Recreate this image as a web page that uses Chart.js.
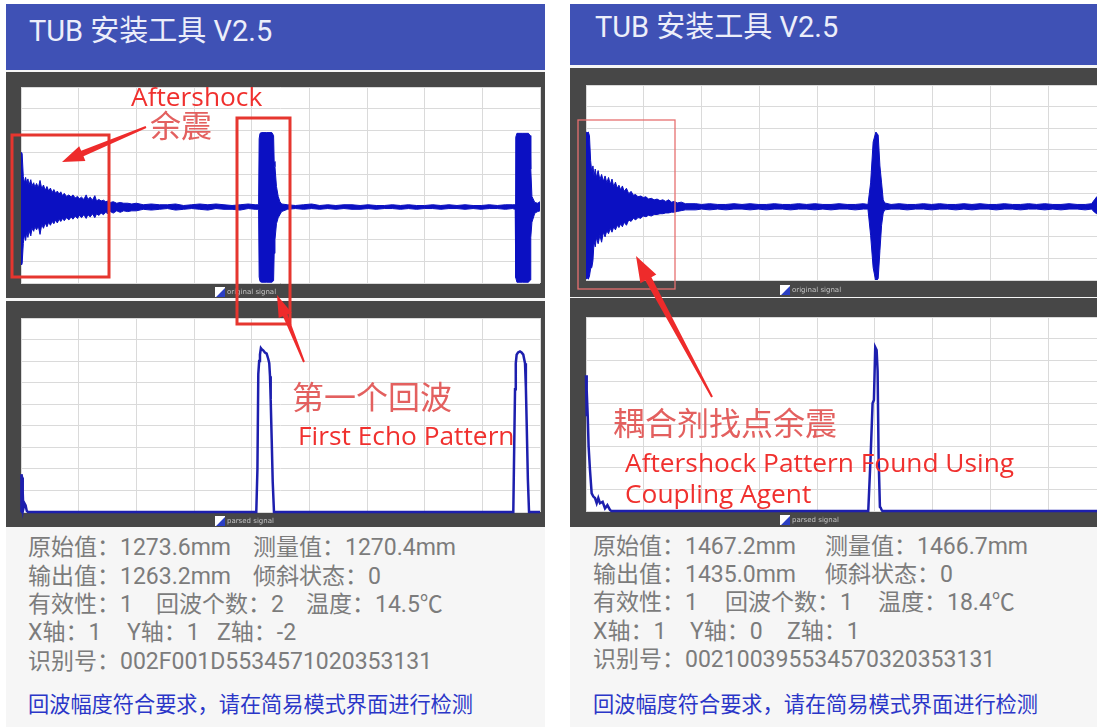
<!DOCTYPE html>
<html>
<head>
<meta charset="utf-8">
<script src="https://cdn.jsdelivr.net/npm/chart.js@4.4.1/dist/chart.umd.min.js"></script>
<style>
html, body { margin: 0; padding: 0; background: #fff; overflow: hidden; }
#page { position: relative; width: 1097px; height: 727px; overflow: hidden; font-family: Roboto, "Noto Sans CJK SC", sans-serif; }
.phone { position: absolute; background: #f6f6f6; }
.bar { position: absolute; background: #3f51b5; }
.title { position: absolute; color: #eceefa; font-size: 29px; line-height: 34px; white-space: nowrap; }
canvas { position: absolute; }
.info { position: absolute; color: #7c7c7c; font-size: 23px; line-height: 28px; white-space: nowrap; }
.tip { position: absolute; color: #2b36c8; font-size: 21.2px; line-height: 28px; white-space: nowrap; }
.lg { position: absolute; font-size: 7px; line-height: 10px; color: #c4c4c4; white-space: nowrap; font-family: "DejaVu Sans", sans-serif; }
.lg svg { vertical-align: middle; margin-right: 2px; }
#notes { position: absolute; left: 0; top: 0; pointer-events: none; }
</style>
</head>
<body>
<div id="page">
  <div class="phone" style="left:6px;top:4px;width:539px;height:723px"></div>
  <div class="phone" style="left:570px;top:4px;width:527px;height:723px"></div>

  <div class="bar" style="left:6px;top:4px;width:539px;height:66px"></div>
  <div class="title" style="left:29px;top:14px">TUB 安装工具 V2.5</div>
  <div class="bar" style="left:570px;top:4px;width:527px;height:61px"></div>
  <div class="title" style="left:595px;top:10px">TUB 安装工具 V2.5</div>

  <canvas id="leftWave" width="539" height="226" style="left:6px;top:72px"></canvas>
  <canvas id="leftEnv" width="539" height="226" style="left:6px;top:301px"></canvas>
  <canvas id="rightWave" width="540" height="229" style="left:570px;top:68px"></canvas>
  <canvas id="rightEnv" width="540" height="229" style="left:570px;top:298px"></canvas>

  <div class="lg" style="left:215px;top:287px"><svg width="10" height="10"><rect width="10" height="10" fill="#fff"/><polygon points="10,0 10,10 0,10" fill="#2b3fc4"/><line x1="0" y1="10" x2="10" y2="0" stroke="#fff" stroke-width="1.5"/></svg>original signal</div>
  <div class="lg" style="left:215px;top:516px"><svg width="10" height="10"><rect width="10" height="10" fill="#fff"/><polygon points="10,0 10,10 0,10" fill="#2b3fc4"/><line x1="0" y1="10" x2="10" y2="0" stroke="#fff" stroke-width="1.5"/></svg>parsed signal</div>
  <div class="lg" style="left:780px;top:285px"><svg width="10" height="10"><rect width="10" height="10" fill="#fff"/><polygon points="10,0 10,10 0,10" fill="#2b3fc4"/><line x1="0" y1="10" x2="10" y2="0" stroke="#fff" stroke-width="1.5"/></svg>original signal</div>
  <div class="lg" style="left:780px;top:515px"><svg width="10" height="10"><rect width="10" height="10" fill="#fff"/><polygon points="10,0 10,10 0,10" fill="#2b3fc4"/><line x1="0" y1="10" x2="10" y2="0" stroke="#fff" stroke-width="1.5"/></svg>parsed signal</div>

  <div class="info" style="left:28px;top:534px">原始值：1273.6mm</div>
  <div class="info" style="left:253px;top:534px">测量值：1270.4mm</div>
  <div class="info" style="left:28px;top:563px">输出值：1263.2mm</div>
  <div class="info" style="left:253px;top:563px">倾斜状态：0</div>
  <div class="info" style="left:28px;top:591px">有效性：1</div>
  <div class="info" style="left:156px;top:591px">回波个数：2</div>
  <div class="info" style="left:306px;top:591px">温度：14.5℃</div>
  <div class="info" style="left:28px;top:619px">X轴：1</div>
  <div class="info" style="left:127px;top:619px">Y轴：1</div>
  <div class="info" style="left:217px;top:619px">Z轴：-2</div>
  <div class="info" style="left:28px;top:648px">识别号：002F001D5534571020353131</div>
  <div class="tip" style="left:28px;top:691px">回波幅度符合要求，请在简易模式界面进行检测</div>

  <div class="info" style="left:593px;top:533px">原始值：1467.2mm</div>
  <div class="info" style="left:825px;top:533px">测量值：1466.7mm</div>
  <div class="info" style="left:593px;top:561px">输出值：1435.0mm</div>
  <div class="info" style="left:825px;top:561px">倾斜状态：0</div>
  <div class="info" style="left:593px;top:589px">有效性：1</div>
  <div class="info" style="left:725px;top:589px">回波个数：1</div>
  <div class="info" style="left:878px;top:589px">温度：18.4℃</div>
  <div class="info" style="left:593px;top:618px">X轴：1</div>
  <div class="info" style="left:690px;top:618px">Y轴：0</div>
  <div class="info" style="left:787px;top:618px">Z轴：1</div>
  <div class="info" style="left:593px;top:646px">识别号：002100395534570320353131</div>
  <div class="tip" style="left:593px;top:691px">回波幅度符合要求，请在简易模式界面进行检测</div>

  <svg id="notes" width="1097" height="727">
    <rect x="12" y="135" width="97" height="142" fill="none" stroke="#e6362f" stroke-width="3"/>
    <rect x="237" y="118" width="53" height="206" fill="none" stroke="#e6362f" stroke-width="3"/>
    <rect x="578" y="120" width="97" height="169" fill="none" stroke="#e77070" stroke-width="1.3"/>
    <g id="arrows" fill="#ee2b2b"></g>
    <g font-family="'Open Sans', sans-serif" font-size="26.3" fill="#f0302e">
      <text x="131" y="106">Aftershock</text>
      <text x="298" y="445">First Echo Pattern</text>
      <text x="625" y="472">Aftershock Pattern Found Using</text>
      <text x="625" y="503">Coupling Agent</text>
    </g>
    <g font-family="'Noto Sans CJK SC', sans-serif" fill="#e3605f">
      <text x="150" y="137" font-size="31">余震</text>
      <text x="292" y="409" font-size="32">第一个回波</text>
      <text x="613" y="435" font-size="32">耦合剂找点余震</text>
    </g>
  </svg>
</div>

<script>
// x positions are in samples (9 grid divisions of 100), y in amplitude units
const xTicks = [0, 100, 200, 300, 400, 500, 600, 700, 800, 900];
const leftWaveTicks = [-100, -71.3, -42.7, -14, 14.7, 43.3, 72, 100.7, 129.3, 158];
const rightWaveTicks = [-95, -66.9, -38.8, -10.7, 17.4, 45.6, 73.7, 101.8, 129.9, 158];
const envTicks = [0, 1, 2, 3, 4, 5, 6, 7, 8, 9];

// left "original signal": upper and lower edge of the dense trace
const leftWaveX = [
  0, 1, 2, 4, 6, 8, 10, 12, 14, 17, 19, 22, 24, 27, 30, 33, 36, 39, 42, 45,
  48, 51, 54, 57, 60, 63, 66, 69, 72, 75, 79, 83, 87, 90, 94, 98, 101, 105, 109, 113,
  116, 120, 124, 128, 131, 135, 139, 143, 147, 151, 155, 160, 166, 172, 178, 185, 192, 200,
  212, 226, 240, 254, 268, 282, 296, 310, 324, 338, 352, 366, 380, 394, 406, 412,
  413, 414.5, 417, 426, 435, 438, 439, 440.4, 443, 446, 449, 452,
  462, 476, 490, 504, 518, 532, 546, 560, 574, 588, 602, 616, 630, 644, 658,
  672, 686, 700, 714, 728, 742, 756, 770, 784, 798, 812, 826, 840, 852, 857,
  858, 860, 870, 880, 883, 884, 886, 891, 896, 900
];
const leftWaveHi = [
  55, 72, 70, 40, 32, 39, 31, 37, 29, 36, 28, 32, 26, 31, 25, 35, 24, 29, 22, 27,
  21, 25, 19, 23, 18, 21, 17, 20, 15, 18, 14, 16, 13, 16, 12, 14, 11, 13, 10, 16,
  10, 13, 9, 15, 8, 10, 8, 9, 7, 8, 6, 7, 5, 6, 5, 5, 4, 5,
  3, 4, 3, 3, 4, 2, 3, 4, 3, 4, 3, 2, 3, 4, 3, 3,
  90, 97, 98, 98, 98, 94, 60, 53, 27, 14, 7, 4,
  3, 2, 3, 4, 2, 3, 2, 3, 3, 2, 3, 2, 2, 3, 2,
  3, 2, 2, 3, 2, 3, 2, 3, 2, 2, 3, 2, 3, 3, 3,
  92, 97, 97, 97, 94, 50, 14, 6, 5, 7
];
const leftWaveLo = [
  -58, -76, -74, -48, -36, -44, -33, -40, -31, -38, -28, -32, -26, -30, -25, -36, -23, -28, -21, -26,
  -20, -24, -19, -22, -17, -21, -16, -19, -15, -18, -14, -17, -13, -16, -12, -15, -11, -14, -10, -15,
  -10, -13, -9, -14, -9, -11, -8, -10, -7, -9, -6, -8, -5, -7, -5, -6, -5, -5,
  -3, -4, -3, -2, -4, -3, -2, -3, -4, -2, -3, -3, -4, -2, -3, -3,
  -92, -98, -99, -99, -99, -97, -61, -43, -22, -14, -10, -6,
  -3, -2, -3, -2, -3, -2, -3, -2, -3, -3, -2, -3, -2, -2, -3,
  -2, -3, -2, -2, -3, -2, -2, -3, -2, -3, -2, -2, -3, -2, -3,
  -93, -99, -99, -99, -96, -40, -20, -8, -6, -5
];

// left "parsed signal"
const leftEnvX = [
  0, 0.8, 1.8, 3, 4, 6, 8, 10, 12,
  408, 410, 411.5, 413, 414.4, 416, 417.4, 420, 423, 426, 428.8, 430.5, 431.8, 433, 434.7, 436.5, 438.7,
  853.7, 855, 856.7, 858, 859.5, 862, 865.3, 868, 871, 874, 875.5, 877, 879, 881, 900
];
const leftEnvY = [
  0, 1.75, 1.6, 0.9, 0.15, 0.4, 0.3, 0.05, 0,
  0, 2.0, 6.4, 7.0, 7.3, 7.6, 7.55, 7.5, 7.4, 7.35, 7.1, 6.9, 6.3, 5.2, 3.4, 1.4, 0,
  0, 2.5, 5.7, 6.9, 7.3, 7.4, 7.45, 7.4, 7.3, 6.9, 5.8, 4.0, 1.5, 0, 0
];

// right "original signal"
const rightWaveX = [
  0, 2, 4, 6, 8, 10, 12, 14, 16, 18, 21, 24, 27, 30, 33, 36, 39, 42, 45, 48,
  51, 54, 57, 60, 63, 66, 70, 74, 78, 82, 86, 90, 95, 99, 104, 108, 113, 118, 123, 128,
  133, 138, 143, 148, 153, 158, 165, 172, 180, 190,
  200, 214, 228, 242, 256, 270, 284, 298, 312, 326, 340, 354, 368, 382, 396, 410, 424, 438, 452, 466, 480, 488,
  492.6, 497, 501.7, 505.7, 508.7, 511.6, 514.4, 517,
  528, 542, 556, 570, 584, 598, 612, 626, 640, 654, 668, 682, 696, 710, 724, 738, 752, 766, 780, 794,
  808, 822, 836, 850, 864, 875,
  880, 884, 888
];
const rightWaveHi = [
  97, 96, 97, 92, 60, 45, 53, 40, 49, 38, 47, 35, 42, 33, 40, 31, 38, 29, 36, 26,
  32, 24, 28, 22, 27, 20, 24, 17, 20, 15, 16, 13, 14, 12, 13, 10, 11, 9, 10, 8,
  9, 7, 9, 6, 7, 5, 6, 4, 4, 4,
  3, 4, 3, 3, 4, 3, 4, 3, 3, 4, 3, 3, 4, 3, 4, 3, 3, 4, 3, 3, 4, 3,
  31, 84, 97, 93, 53, 31, 9, 5,
  3, 4, 3, 3, 4, 3, 4, 3, 3, 4, 3, 4, 3, 3, 4, 3, 3, 4, 3, 4,
  3, 3, 4, 3, 3, 4,
  9, 13, 12
];
const rightWaveLo = [
  -94, -92, -94, -90, -80, -79, -70, -45, -52, -40, -48, -37, -46, -33, -39, -31, -35, -28, -33, -26,
  -30, -24, -27, -22, -26, -20, -24, -17, -19, -15, -17, -14, -15, -12, -13, -11, -12, -10, -10, -9,
  -9, -8, -8, -7, -7, -6, -5, -4, -4, -4,
  -3, -4, -3, -4, -3, -3, -4, -3, -4, -3, -3, -4, -3, -3, -4, -3, -4, -3, -3, -4, -3, -3,
  -37, -79, -97, -93, -57, -24, -8, -4,
  -3, -3, -4, -3, -3, -4, -3, -3, -4, -3, -4, -3, -3, -4, -3, -3, -4, -3, -3, -4,
  -3, -4, -3, -3, -4, -3,
  -7, -9, -8
];

// right "parsed signal"
const rightEnvX = [
  0, 0.8, 1.6, 3, 4.5, 6.9, 8.5, 9.8, 12.7, 15.6, 18.5, 21.3, 24.2, 28.8, 32.9, 37, 41.5, 44,
  488.5, 492.6, 496, 498.3, 500.6, 503, 504.7, 506.4, 508.7, 510, 511.6, 513, 900
];
const rightEnvY = [
  6.3, 4.4, 5.6, 4.4, 3.0, 1.9, 1.3, 0.82, 0.67, 0.6, 0.36, 0.6, 0.36, 0.43, 0.12, 0.27, 0.05, 0,
  0, 2.5, 5.0, 5.15, 7.6, 7.47, 6.5, 2.5, 0.19, 0.15, 0.05, 0, 0
];

const WAVE = '#0b10c2';
const ENV = '#1d1fae';
const GRID = '#dadada';

function pairUp(xs, ys, name) {
  if (xs.length !== ys.length) throw new Error(name + ': ' + xs.length + ' x vs ' + ys.length + ' y');
  return xs.map((x, i) => ({ x: x, y: ys[i] }));
}

const frameBg = {
  id: 'frameBg',
  beforeDraw(chart) {
    const { ctx, chartArea: a, width, height } = chart;
    ctx.save();
    ctx.fillStyle = '#474747';
    ctx.fillRect(0, 0, width, height);
    ctx.fillStyle = '#ffffff';
    ctx.fillRect(a.left, a.top, a.right - a.left, a.bottom - a.top);
    ctx.restore();
  }
};

function options(yMin, yMax, yTicks, pad) {
  return {
    responsive: false,
    animation: false,
    layout: { padding: pad },
    plugins: { legend: { display: false }, tooltip: { enabled: false } },
    scales: {
      x: {
        type: 'linear', min: 0, max: 900,
        afterBuildTicks: s => { s.ticks = xTicks.map(v => ({ value: v })); },
        ticks: { display: false },
        grid: { color: GRID, drawTicks: false },
        border: { display: false }
      },
      y: {
        type: 'linear', min: yMin, max: yMax,
        afterBuildTicks: s => { s.ticks = yTicks.map(v => ({ value: v })); },
        ticks: { display: false },
        grid: { color: GRID, drawTicks: false },
        border: { display: false }
      }
    }
  };
}

function waveChart(id, xs, hi, lo, yMin, yMax, yTicks, pad) {
  new Chart(document.getElementById(id), {
    type: 'line',
    data: {
      datasets: [
        { data: pairUp(xs, hi, id + ' hi'), borderColor: WAVE, borderWidth: 1, pointRadius: 0, fill: false },
        { data: pairUp(xs, lo, id + ' lo'), borderColor: WAVE, borderWidth: 1, pointRadius: 0, fill: '-1', backgroundColor: WAVE }
      ]
    },
    options: options(yMin, yMax, yTicks, pad),
    plugins: [frameBg]
  });
}

function envChart(id, xs, ys, pad) {
  new Chart(document.getElementById(id), {
    type: 'line',
    data: {
      datasets: [
        { data: pairUp(xs, ys, id), borderColor: ENV, borderWidth: 2.5, pointRadius: 0, fill: false, clip: false }
      ]
    },
    options: options(0, 9, envTicks, pad),
    plugins: [frameBg]
  });
}

waveChart('leftWave', leftWaveX, leftWaveHi, leftWaveLo, -100, 158, leftWaveTicks, { left: 15, top: 15, right: 5, bottom: 15 });
envChart('leftEnv', leftEnvX, leftEnvY, { left: 15, top: 17, right: 5, bottom: 15 });
waveChart('rightWave', rightWaveX, rightWaveHi, rightWaveLo, -95, 158, rightWaveTicks, { left: 16, top: 17, right: 4, bottom: 17 });
envChart('rightEnv', rightEnvX, rightEnvY, { left: 16, top: 19, right: 4, bottom: 16 });

// red callout arrows
function arrow(x1, y1, x2, y2, tailW, shaftW, headL, headW) {
  const len = Math.hypot(x2 - x1, y2 - y1);
  const ux = (x2 - x1) / len, uy = (y2 - y1) / len, nx = -uy, ny = ux;
  const bx = x2 - ux * headL, by = y2 - uy * headL;
  const pts = [
    [x1 + nx * tailW / 2, y1 + ny * tailW / 2],
    [bx + nx * shaftW / 2, by + ny * shaftW / 2],
    [bx + nx * headW / 2, by + ny * headW / 2],
    [x2, y2],
    [bx - nx * headW / 2, by - ny * headW / 2],
    [bx - nx * shaftW / 2, by - ny * shaftW / 2],
    [x1 - nx * tailW / 2, y1 - ny * tailW / 2]
  ];
  const p = document.createElementNS('http://www.w3.org/2000/svg', 'polygon');
  p.setAttribute('points', pts.map(q => q[0].toFixed(1) + ',' + q[1].toFixed(1)).join(' '));
  document.getElementById('arrows').appendChild(p);
}
arrow(146, 127, 62, 162, 2, 6, 22, 16);
arrow(304, 362, 277, 295, 2, 5, 22, 14);
arrow(712, 397, 636, 256, 2, 7, 26, 18);
</script>
</body>
</html>
